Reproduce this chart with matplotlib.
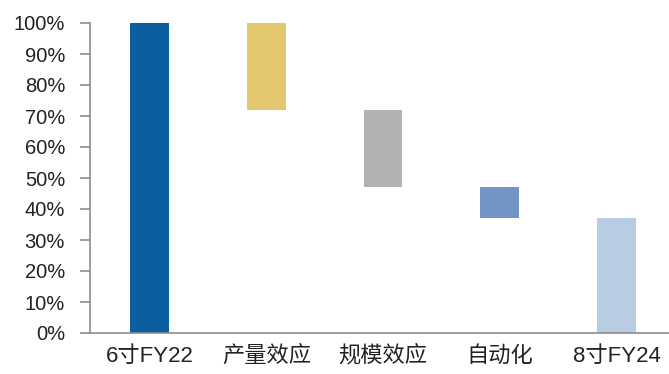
import matplotlib
matplotlib.use("Agg")
import matplotlib.pyplot as plt
from matplotlib.ticker import FuncFormatter

plt.rcParams['font.family'] = ['Liberation Sans', 'Noto Sans CJK SC', 'DejaVu Sans']

# Cost bridge from 6-inch FY22 to 8-inch FY24 (share of FY22 cost)
categories = ["6寸FY22", "产量效应", "规模效应", "自动化", "8寸FY24"]
bar_tops = [100, 100, 72, 47, 37]
bar_bottoms = [0, 72, 47, 37, 0]
colors = ["#0B5E9F", "#E3C76E", "#B2B2B2", "#7295C5", "#B8CDE3"]
y_ticks = [0, 10, 20, 30, 40, 50, 60, 70, 80, 90, 100]

fig = plt.figure(figsize=(6.69, 3.74), dpi=100)
ax = fig.add_axes([90 / 669, 1 - 333 / 374, 1 - 90 / 669, 310 / 374])

x = list(range(len(categories)))
heights = [t - b for t, b in zip(bar_tops, bar_bottoms)]
ax.bar(x, heights, bottom=bar_bottoms, width=0.33, color=colors, zorder=2)

ax.set_xlim(-0.51, 4.45)
ax.set_ylim(0, 100)
ax.set_yticks(y_ticks)
ax.yaxis.set_major_formatter(FuncFormatter(lambda v, _: f"{v:.0f}%"))
ax.set_xticks(x)
ax.set_xticklabels(categories)

for side in ("top", "right"):
    ax.spines[side].set_visible(False)
for side in ("left", "bottom"):
    ax.spines[side].set_color("#8C8C8C")
    ax.spines[side].set_linewidth(1.2)

ax.tick_params(axis="y", length=7, width=1.2, color="#8C8C8C",
               labelsize=14.5, labelcolor="#222222", pad=11)
ax.tick_params(axis="x", length=0, labelsize=16, labelcolor="#222222", pad=9)

fig.savefig("out.png", dpi=100, facecolor="white")
